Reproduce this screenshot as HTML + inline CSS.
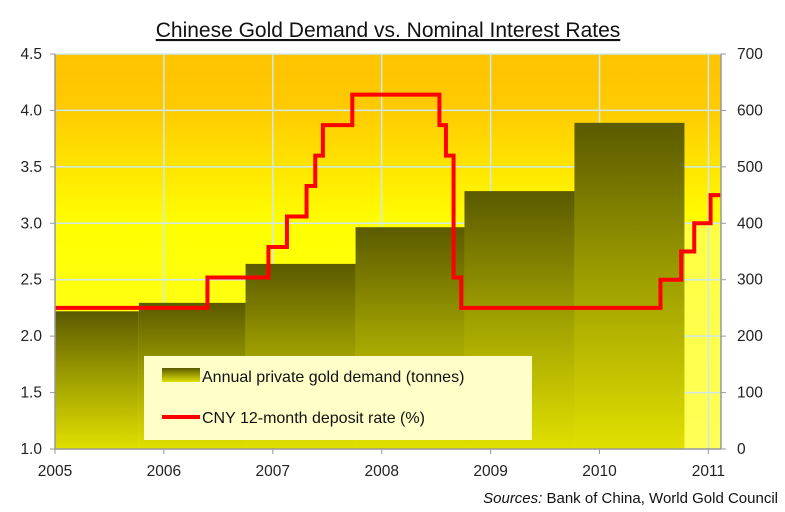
<!DOCTYPE html>
<html><head><meta charset="utf-8"><style>
body{margin:0;background:#fff;}
svg{display:block;font-family:"Liberation Sans",Arial,sans-serif;}
</style></head><body>
<svg id="chart" width="785" height="512" viewBox="0 0 785 512">
<defs>
<linearGradient id="bg" x1="0" y1="0" x2="0" y2="1">
<stop offset="0" stop-color="#ffc400"/><stop offset="0.14" stop-color="#ffca00"/>
<stop offset="0.43" stop-color="#ffff00"/><stop offset="1" stop-color="#ffff30"/>
</linearGradient>
<linearGradient id="barg" x1="0" y1="0" x2="0" y2="1">
<stop offset="0" stop-color="#5a5a00"/><stop offset="0.45" stop-color="#9a9a00"/><stop offset="1" stop-color="#e0e000"/>
</linearGradient>
</defs>
<text x="388" y="37" text-anchor="middle" font-size="21" text-decoration="underline" fill="#111">Chinese Gold Demand vs. Nominal Interest Rates</text>
<rect x="55" y="54" width="666" height="395" fill="url(#bg)"/>
<g id="grid"></g><g id="bars"></g><g id="line"></g><g id="axes"></g>
<g>
<rect x="144" y="356" width="388" height="84" fill="#ffffc8"/>
<rect x="162" y="368" width="38" height="14" fill="url(#barg)"/>
<text x="202" y="382" font-size="16" fill="#111">Annual private gold demand (tonnes)</text>
<line x1="162" y1="417" x2="200" y2="417" stroke="#f00" stroke-width="4"/>
<text x="202" y="423" font-size="16" fill="#111">CNY 12-month deposit rate (%)</text>
</g>
<text x="778" y="503" text-anchor="end" font-size="15" fill="#111"><tspan font-style="italic">Sources:</tspan> Bank of China, World Gold Council</text>
</svg>
<script>
const barStarts=[2005,2005.77,2006.75,2007.76,2008.76,2009.77];
const barEnds=[2005.77,2006.75,2007.76,2008.76,2009.77,2010.78];
const demand=[244,259,328,393,457,578];
const rateDates=[2005,2006.40,2006.96,2007.13,2007.31,2007.39,2007.46,2007.73,2008.53,2008.59,2008.66,2008.73,2010.56,2010.75,2010.87,2011.02];
const rates=[2.25,2.52,2.79,3.06,3.33,3.60,3.87,4.14,3.87,3.60,2.52,2.25,2.50,2.75,3.00,3.25];
const xTicks=[2005,2006,2007,2008,2009,2010,2011];
const leftTicks=[1.0,1.5,2.0,2.5,3.0,3.5,4.0,4.5];
const rightTicks=[0,100,200,300,400,500,600,700];
const X0=55,X1=721,Y0=449,Y1=54,xEnd=2011.11;
const xs=d=>X0+(d-2005)*108.9;
const yl=v=>Y0-(v-1)/3.5*(Y0-Y1);
const yr=v=>Y0-v/700*(Y0-Y1);
const NS='http://www.w3.org/2000/svg';
function mk(t,p,a){const e=document.createElementNS(NS,t);for(const k in a)e.setAttribute(k,a[k]);p.appendChild(e);return e;}
const grid=document.getElementById('grid'),bars=document.getElementById('bars'),line=document.getElementById('line'),axes=document.getElementById('axes');
const col=mk('rect',grid,{x:xs(barEnds[barEnds.length-1]),y:yl(3.0),width:X1-xs(barEnds[barEnds.length-1]),height:Y0-yl(3.0),fill:'#ffff70',opacity:0.6});


leftTicks.forEach(v=>{
 const g=mk('line',grid,{x1:X0,x2:X1,y1:yl(v),y2:yl(v),stroke:'#cfe8f0','stroke-width':1.5});
 
 
 const t=mk('text',axes,{x:42,y:yl(v)+5,'text-anchor':'end','font-size':15.5,fill:'#222'});t.textContent=v.toFixed(1);
 
 
 mk('line',axes,{x1:X0-5,x2:X0,y1:yl(v),y2:yl(v),stroke:'#999'});
});
xTicks.forEach(d=>{
 if(d>2005){const g=mk('line',grid,{x1:xs(d),x2:xs(d),y1:Y1,y2:Y0,stroke:'#cfe8f0','stroke-width':1.5});
 
 }
 const t=mk('text',axes,{x:xs(d),y:476,'text-anchor':'middle','font-size':15.5,fill:'#222'});t.textContent=d;
 
 
 mk('line',axes,{x1:xs(d),x2:xs(d),y1:Y0,y2:Y0+5,stroke:'#999'});
});
rightTicks.forEach(v=>{
 const t=mk('text',axes,{x:737,y:yr(v)+5,'font-size':15.5,fill:'#222'});t.textContent=v;
 
 
 mk('line',axes,{x1:X1,x2:X1+5,y1:yr(v),y2:yr(v),stroke:'#999'});
});
mk('line',axes,{x1:X0,x2:X0,y1:Y1,y2:Y0,stroke:'#999','stroke-width':1.5});
mk('line',axes,{x1:X1,x2:X1,y1:Y1,y2:Y0,stroke:'#999','stroke-width':1.5});
mk('line',axes,{x1:X0,x2:X1,y1:Y0,y2:Y0,stroke:'#999','stroke-width':1.5});
demand.forEach((v,i)=>{
 const b=mk('rect',bars,{x:xs(barStarts[i]),y:yr(v),width:xs(barEnds[i])-xs(barStarts[i]),height:Y0-yr(v),fill:'url(#barg)'});
 
 
});
let d='M'+xs(rateDates[0])+','+yl(rates[0]);
for(let i=1;i<rates.length;i++){d+=' H'+xs(rateDates[i])+' V'+yl(rates[i]);}
d+=' H'+xs(xEnd);
const p=mk('path',line,{d:d,fill:'none',stroke:'#ff0000','stroke-width':4});


</script>
</body></html>
